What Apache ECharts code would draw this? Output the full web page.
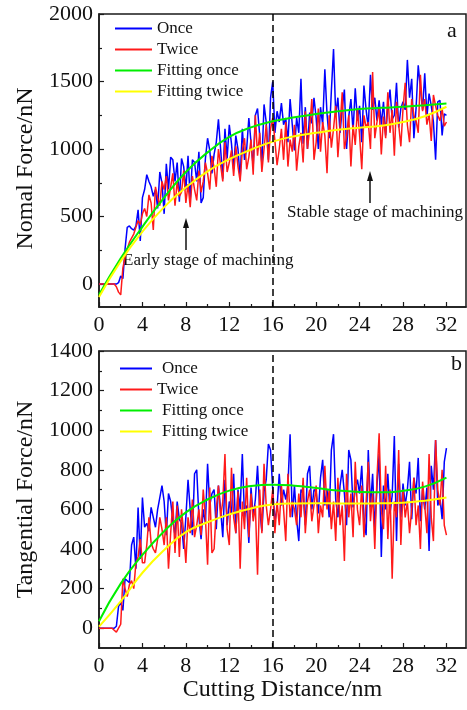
<!DOCTYPE html>
<html><head><meta charset="utf-8">
<script src="https://cdn.jsdelivr.net/npm/echarts@6/dist/echarts.min.js"></script>
<style>html,body{margin:0;padding:0;background:#fff}#c{width:467px;height:710px}</style>
</head><body><div id="c"></div>
<script>
// ---------- data ----------
const distanceStep = 0.2; // nm between samples (0 .. 32)
const normalOnce = [
0,0,0,0,0,0,0,0,0,10,
60,40,260,420,430,410,400,430,550,320,
640,700,810,760,720,650,700,560,830,750,
520,890,700,940,920,760,900,610,930,870,
700,950,620,920,900,760,980,600,640,930,
1080,990,820,960,1050,1220,1000,780,1150,930,
1180,1040,850,1100,1000,780,1150,920,1000,1230,
1050,870,1250,1300,1100,890,1330,1200,920,1380,
1500,1120,1280,1200,1340,1180,1230,1050,1370,1180,
990,1230,1120,1520,1040,1310,1000,1270,1190,1380,
1230,1000,1310,1180,1590,1260,1080,1430,1740,1250,
1380,1120,1300,1440,1000,1240,1370,1130,1450,1210,
1320,1050,1470,1290,1160,1550,1290,1380,1210,1360,
1180,1350,1100,1320,1440,1220,1250,1490,1160,1300,
1350,1290,1660,1380,1520,1080,1300,1620,1450,1290,
1560,1240,1410,1320,1200,920,1350,1360,1100,1260,
1250];
const normalTwice = [
0,0,0,0,0,0,0,0,-20,-60,
-80,120,200,260,310,340,370,420,470,440,
520,560,500,660,600,400,720,640,580,760,
700,800,620,720,820,580,760,650,680,840,
600,740,570,800,700,620,840,680,760,900,
820,700,950,860,720,1000,880,760,1050,830,
900,990,800,1020,870,760,990,1080,850,940,
1070,810,1250,950,1120,830,1000,1180,900,1150,
1230,1060,880,1000,1150,920,1200,870,1070,980,
1180,840,1020,1120,900,1280,1000,1150,1370,920,
1050,1300,980,1200,1100,820,1250,1010,1150,1320,
940,1170,1420,1000,1090,1250,870,1180,1030,1300,
1100,850,1250,1160,1200,1000,1570,1080,1200,1300,
960,1240,1080,1420,1120,1290,950,1350,1180,1020,
1300,1490,1180,1050,1370,1250,1210,1120,1550,1280,
1370,1180,1260,1060,1400,1320,1250,1210,1300,1170,
1200];
const tangOnce = [
0,0,0,0,0,0,0,0,10,110,
130,90,250,240,230,420,460,300,610,350,
660,510,530,490,610,560,510,600,660,720,
640,470,680,640,540,470,640,550,530,400,
560,750,600,470,780,800,560,450,600,530,
830,620,680,700,500,720,600,460,750,520,
640,580,780,480,700,600,880,560,620,430,
710,560,650,820,600,490,690,750,930,900,
700,540,610,780,620,700,650,720,980,560,
720,550,440,700,680,520,780,820,600,700,
690,580,760,850,620,700,560,900,980,650,
560,720,800,680,520,900,850,610,700,750,
680,820,560,470,900,610,780,500,720,880,
360,720,600,780,580,670,970,440,830,560,
730,620,700,840,550,760,680,860,540,700,
600,710,390,820,700,950,620,660,550,840,
910];
const tangTwice = [
0,0,0,0,0,0,0,-10,-20,0,
20,250,200,160,220,240,200,330,360,450,
330,330,420,560,430,400,380,450,560,500,
420,560,300,480,640,380,620,360,600,480,
330,560,480,650,460,520,600,470,700,560,
320,710,380,400,600,720,560,640,880,500,
420,810,560,480,690,300,640,500,760,460,
680,540,620,270,700,480,830,620,520,600,
700,480,640,520,720,600,440,780,560,640,
600,520,680,560,760,480,640,700,540,620,
720,480,620,560,820,600,700,500,640,440,
760,520,620,340,780,560,680,460,840,600,
520,720,460,640,840,540,680,400,760,985,
600,500,820,450,700,250,640,560,900,420,
700,560,640,480,600,760,520,620,400,740,
620,480,880,560,440,950,700,620,800,520,
470];
const fitX = [0,2,4,6,8,10,12,14,16,18,20,22,24,26,28,30,32];
const normalFitOnce  = [-80,190,424,640,830,975,1090,1160,1205,1235,1259,1279,1296,1305,1313,1325,1338];
const normalFitTwice = [-96,170,388,570,715,835,925,995,1055,1095,1120,1142,1158,1172,1200,1243,1313];
const tangFitOnce    = [35,225,370,490,585,650,695,718,725,720,708,695,688,686,694,715,760];
const tangFitTwice   = [8,135,280,395,485,535,575,605,625,630,631,630,630,631,634,644,660];
const xTicks = [0,4,8,12,16,20,24,28,32];
const xMinorTicks = [2,6,10,14,18,22,26,30];
const yTicksTop = [0,500,1000,1500,2000];
const yMinorTop = [250,750,1250,1750];
const yTicksBot = [0,200,400,600,800,1000,1200,1400];
const yMinorBot = [100,300,500,700,900,1100,1300];
const legendNames = ['Once','Twice','Fitting once','Fitting twice'];
const dashX = 16;

// ---------- chart ----------
const FF = 'Liberation Serif';
const AX = '#1a1a1a';
const pairs = (arr) => arr.map((v,i)=>[+(i*distanceStep).toFixed(1), v]);
const fitPairs = (arr) => arr.map((v,i)=>[fitX[i], v]);
const plain = (v) => String(v);

function mainX(g, name){
  return {type:'value', gridIndex:g, position:'bottom', min:0, max:33.8,
    axisLine:{show:true,onZero:false,lineStyle:{color:AX,width:1.5}},
    axisTick:{show:true,inside:true,length:5,customValues:xTicks,lineStyle:{color:AX,width:1.2}},
    axisLabel:{customValues:xTicks,formatter:plain,fontFamily:FF,fontSize:22,color:'#111',margin:7},
    splitLine:{show:false},
    name:name||'', nameLocation:'middle', nameGap:30,
    nameTextStyle:{fontFamily:FF,fontSize:24,color:'#111'}};
}
function minorX(g){
  return {type:'value', gridIndex:g, position:'bottom', min:0, max:33.8,
    axisLine:{show:false,onZero:false},
    axisTick:{show:true,inside:true,length:3,customValues:xMinorTicks,lineStyle:{color:AX,width:1.2}},
    axisLabel:{show:false}, splitLine:{show:false}};
}
function mainY(g, min, max, ticks, name, gap, pad){
  return {type:'value', gridIndex:g, position:'left', min:min, max:max,
    axisLine:{show:true,onZero:false,lineStyle:{color:AX,width:1.5}},
    axisTick:{show:true,inside:true,length:5,customValues:ticks,lineStyle:{color:AX,width:1.2}},
    axisLabel:{customValues:ticks,formatter:plain,fontFamily:FF,fontSize:22,color:'#111',margin:6},
    splitLine:{show:false},
    name:name, nameLocation:'middle', nameGap:gap,
    nameTextStyle:{fontFamily:FF,fontSize:24,color:'#111',padding:pad}};
}
function minorY(g, min, max, ticks){
  return {type:'value', gridIndex:g, position:'left', min:min, max:max,
    axisLine:{show:false,onZero:false},
    axisTick:{show:true,inside:true,length:3,customValues:ticks,lineStyle:{color:AX,width:1.2}},
    axisLabel:{show:false}, splitLine:{show:false}};
}
const dash = {silent:true, symbol:['none','none'], label:{show:false},
  lineStyle:{color:'#000',type:[7,4],width:1.5}, data:[{xAxis:dashX}], animation:false};

function line(name, data, xi, color, w, smooth, mark){
  const s = {type:'line', name:name, xAxisIndex:xi, yAxisIndex:xi, data:data,
    symbol:'none', smooth:smooth, lineStyle:{color:color,width:w}, itemStyle:{color:color},
    animation:false};
  if(mark) s.markLine = dash;
  return s;
}
const C = {once:'#0000ff', twice:'#ff1a1a', fo:'#00ee00', ft:'#ffff00'};

function legend(top, left, w, pads){
  return {orient:'vertical', top:top, left:left, icon:'rect', itemWidth:w, itemHeight:2, itemGap:0,
    textStyle:{fontFamily:FF,fontSize:17,color:'#111',lineHeight:21},
    data: legendNames.map((n,i)=>({name:n, textStyle:{padding:[0,0,0,pads[i]]}}))};
}

const option = {
  backgroundColor:'#fff',
  animation:false,
  grid:[
    {left:99,right:1,top:14,height:293,show:true,borderColor:AX,borderWidth:1.5,backgroundColor:'transparent'},
    {left:99,right:1,top:351,height:297,show:true,borderColor:AX,borderWidth:1.5,backgroundColor:'transparent'}
  ],
  xAxis:[mainX(0), mainX(1,'Cutting Distance/nm'), minorX(0), minorX(1)],
  yAxis:[mainY(0,-170,2000,yTicksTop,'Nomal Force/nN',58,[0,16,0,0]),
         mainY(1,-100,1400,yTicksBot,'Tangential Force/nN',61,[0,0,0,0]),
         minorY(0,-170,2000,yMinorTop), minorY(1,-100,1400,yMinorBot)],
  legend:[legend(13,110,37,[0,0,0,0]), legend(353,115,32,[5,0,5,5])],
  series:[
    line('Once', pairs(normalOnce), 0, C.once, 1.5, false, true),
    line('Twice', pairs(normalTwice), 0, C.twice, 1.5, false),
    line('Fitting once', fitPairs(normalFitOnce), 0, C.fo, 2, true),
    line('Fitting twice', fitPairs(normalFitTwice), 0, C.ft, 2, true),
    line('Once', pairs(tangOnce), 1, C.once, 1.5, false, true),
    line('Twice', pairs(tangTwice), 1, C.twice, 1.5, false),
    line('Fitting once', fitPairs(tangFitOnce), 1, C.fo, 2, true),
    line('Fitting twice', fitPairs(tangFitTwice), 1, C.ft, 2, true)
  ],
  graphic:[
    {type:'text', left:447, top:20, style:{text:'a', font:'22px "Liberation Serif"', fill:'#111'}},
    {type:'text', left:451, top:353, style:{text:'b', font:'22px "Liberation Serif"', fill:'#111'}},
    {type:'text', left:123, top:252, style:{text:'Early stage of machining', font:'17px "Liberation Serif"', fill:'#111'}},
    {type:'text', left:287, top:204, style:{text:'Stable stage of machining', font:'17px "Liberation Serif"', fill:'#111'}},
    {type:'line', shape:{x1:186,y1:250,x2:186,y2:225}, style:{stroke:'#111',lineWidth:1.5}},
    {type:'polygon', shape:{points:[[186,218],[183,228],[189,228]]}, style:{fill:'#111'}},
    {type:'line', shape:{x1:370,y1:203,x2:370,y2:179}, style:{stroke:'#111',lineWidth:1.5}},
    {type:'polygon', shape:{points:[[370,171],[367,181],[373,181]]}, style:{fill:'#111'}}
  ]
};
const chart = echarts.init(document.getElementById('c'), null, {renderer:'canvas'});
chart.setOption(option);
</script></body></html>
